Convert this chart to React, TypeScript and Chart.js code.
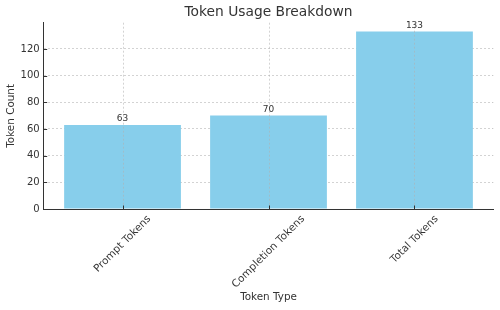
import React, { useEffect, useRef } from "react";
import { Chart, registerables } from "chart.js";

Chart.register(...registerables);

const categories = ["Prompt Tokens", "Completion Tokens", "Total Tokens"];
const tokenCounts = [63, 70, 133];
const yTicks = [0, 20, 40, 60, 80, 100, 120];

const TEXT = "#333333";
const GRID = "rgba(176,176,176,0.7)";
const FONT = "'DejaVu Sans', sans-serif";

const overlayPlugin = {
  id: "overlay",
  afterDatasetsDraw(chart: any) {
    const { ctx, chartArea, scales } = chart;
    const xs = scales.x;
    const ys = scales.y;
    ctx.save();
    ctx.strokeStyle = GRID;
    ctx.lineWidth = 0.8;
    ctx.setLineDash([2, 2]);
    categories.forEach((_, i) => {
      const x = Math.round(xs.getPixelForValue(i)) + 0.5;
      ctx.beginPath();
      ctx.moveTo(x, chartArea.top);
      ctx.lineTo(x, chartArea.bottom);
      ctx.stroke();
    });
    ctx.setLineDash([]);
    ctx.strokeStyle = TEXT;
    ctx.lineWidth = 1;
    categories.forEach((_, i) => {
      const x = Math.round(xs.getPixelForValue(i)) + 0.5;
      ctx.beginPath();
      ctx.moveTo(x, chartArea.bottom);
      ctx.lineTo(x, chartArea.bottom - 3.5);
      ctx.stroke();
    });
    yTicks.forEach((v) => {
      const y = Math.round(ys.getPixelForValue(v)) + 0.5;
      ctx.beginPath();
      ctx.moveTo(chartArea.left, y);
      ctx.lineTo(chartArea.left + 3.5, y);
      ctx.stroke();
    });
    ctx.fillStyle = TEXT;
    ctx.font = `9px ${FONT}`;
    ctx.textAlign = "center";
    ctx.textBaseline = "alphabetic";
    tokenCounts.forEach((v, i) => {
      const x = xs.getPixelForValue(i);
      const y = ys.getPixelForValue(v);
      ctx.fillText(String(v), x, y - 4);
    });
    ctx.restore();
  },
  afterDraw(chart: any) {
    const { ctx, chartArea, scales } = chart;
    const xs = scales.x;
    ctx.save();
    ctx.fillStyle = TEXT;
    ctx.font = `13.8px ${FONT}`;
    ctx.textAlign = "center";
    ctx.textBaseline = "middle";
    const cx = (chartArea.left + chartArea.right) / 2;
    ctx.fillText("Token Usage Breakdown", cx, 12);
    ctx.font = `10.4px ${FONT}`;
    ctx.fillText("Token Type", cx, 297);
    ctx.save();
    ctx.translate(11, (chartArea.top + chartArea.bottom) / 2);
    ctx.rotate(-Math.PI / 2);
    ctx.fillText("Token Count", 0, 0);
    ctx.restore();
    ctx.font = `10.4px ${FONT}`;
    const h = 12;
    categories.forEach((label, i) => {
      const w = ctx.measureText(label).width;
      const bboxH = (w + h) * Math.SQRT1_2;
      const x = xs.getPixelForValue(i);
      const y = chartArea.bottom + 4 + bboxH / 2;
      ctx.save();
      ctx.translate(x, y);
      ctx.rotate(-Math.PI / 4);
      ctx.textAlign = "center";
      ctx.textBaseline = "middle";
      ctx.fillText(label, 0, 0);
      ctx.restore();
    });
    ctx.restore();
  },
};

export default function App() {
  const ref = useRef<HTMLCanvasElement>(null);
  useEffect(() => {
    document.body.style.margin = "0";
    const chart = new Chart(ref.current!, {
      type: "bar",
      data: {
        datasets: [
          {
            data: tokenCounts.map((v, i) => ({ x: i, y: v })),
            backgroundColor: "#87CEEB",
            borderWidth: 0,
            barPercentage: 0.8,
            categoryPercentage: 1,
          },
        ],
      },
      options: {
        animation: false,
        responsive: false,
        layout: { padding: { left: 0, right: 6.7, top: 22.7, bottom: 0 } },
        plugins: { legend: { display: false }, tooltip: { enabled: false }, title: { display: false } },
        scales: {
          x: {
            type: "linear",
            min: -0.54,
            max: 2.54,
            offset: false,
            afterBuildTicks: (s: any) => {
              s.ticks = categories.map((_, i) => ({ value: i }));
            },
            afterFit: (s: any) => {
              s.height = 101;
            },
            ticks: { display: false },
            grid: { display: false, offset: false },
            border: { display: true, color: TEXT, width: 1 },
          },
          y: {
            type: "linear",
            min: 0,
            max: 139.65,
            afterBuildTicks: (s: any) => {
              s.ticks = yTicks.map((v) => ({ value: v }));
            },
            afterFit: (s: any) => {
              s.width = 43.7;
            },
            ticks: {
              color: TEXT,
              font: { family: FONT, size: 10 },
              padding: 4,
            },
            grid: {
              color: GRID,
              lineWidth: 0.8,
              drawTicks: false,
            },
            border: { display: true, color: TEXT, width: 1, dash: [2, 2] },
          },
        },
      },
      plugins: [overlayPlugin],
    } as any);
    return () => chart.destroy();
  }, []);
  return <canvas ref={ref} width={500} height={310} style={{ display: "block" }} />;
}
